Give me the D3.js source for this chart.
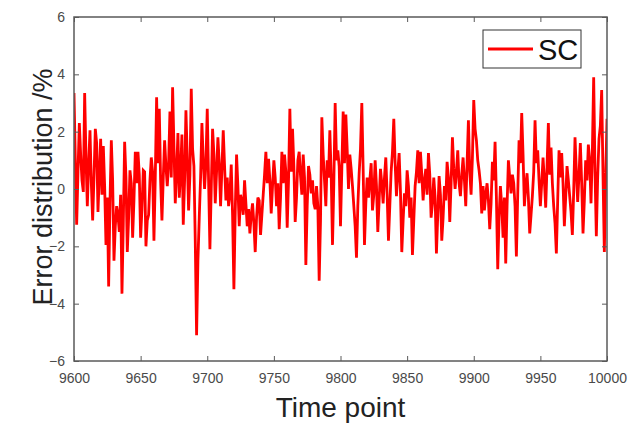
<!DOCTYPE html>
<html>
<head>
<meta charset="utf-8">
<script src="https://cdn.jsdelivr.net/npm/d3@7"></script>
<style>
  body { margin: 0; background: #fff; }
  svg text { font-family: "Liberation Sans", Arial, Helvetica, sans-serif; }
</style>
</head>
<body>
<svg id="chart" width="640" height="423"></svg>
<script>
  // one sample per time point
  var timeStart = 9600,
      timeEnd = 10000,
      timeStep = 1;

  var xTicks = [9600, 9650, 9700, 9750, 9800, 9850, 9900, 9950, 10000];
  var yTicks = [-6, -4, -2, 0, 2, 4, 6];

  var seriesName = 'SC';
  var xLabel = 'Time point';
  var yLabel = 'Error distribution /%';

  // error values for 9600 ... 10000 (20 per row)
  var scError = [
    3.35, 1.0, -1.25, 0.6, 2.3, 1.2, 0.3, -0.1, 3.35, 1.1, -0.6, 0.9, 2.05, 0.2, -1.1, 0.4, 2.1, 1.6, -0.8, 0.5,
    1.75, -0.2, 1.5, 0.1, -1.95, -0.3, -3.4, -0.5, 1.7, 0.3, -2.5, -1.3, -0.6, -0.9, -1.5, -0.2, -3.65, -1.2, 1.65, 0.4,
    -2.2, -1.0, 0.65, 0.2, -1.7, -0.4, 1.3, 0.2, 1.3, 0.5, -1.7, -0.7, 0.65, 0.6, -2.0, -1.1, -0.9, 0.3, 1.1, 0.6,
    -1.8, 0.4, 3.2, 0.9, 2.8, 0.3, -1.1, 0.4, 1.7, 0.8, 0.1, 0.9, 2.7, 0.4, 3.55, 1.5, -0.5, 0.6, 1.95, -0.3,
    0.6, 1.9, -1.25, 0.3, 2.75, 1.1, -0.75, 0.5, 3.5, 1.4, 0.8, -1.8, -5.1, -2.5, -1.0, 0.4, 2.3, 1.0, 0.0, 0.9,
    2.8, 0.3, -2.1, 0.0, 2.1, 1.2, -0.5, 0.6, 1.8, 0.9, -0.6, 0.7, 2.05, 0.8, -0.4, 0.4, -0.6, -0.2, 0.85, -0.9,
    -3.5, -0.8, 1.2, 0.1, -1.3, -0.2, -0.45, -0.9, 0.3, -0.5, -1.3, -0.7, -1.55, -0.9, -0.5, -1.2, -2.2, -1.0, -0.3, -0.4,
    -1.6, -0.9, -0.2, 0.5, 1.3, 0.2, 1.05, 0.3, -0.85, 0.1, 1.0, 0.4, -0.6, 0.2, -1.4, -0.3, 1.3, 0.2, 1.2, 0.6,
    -1.35, 0.3, 2.8, 0.6, 2.1, 0.8, -1.15, -0.3, 1.0, 1.3, 0.45, -0.2, 1.2, 0.4, -2.65, -0.6, 0.8, 0.5, -0.15, 0.3,
    -0.5, -0.7, 0.1, -0.6, -3.2, -1.1, 2.5, 1.2, 0.3, -0.6, 1.0, 0.4, 2.05, 0.5, -1.95, 0.2, 3.0, 1.0, 1.35, 0.8,
    -1.3, 0.7, 2.7, 0.9, 2.6, 1.4, 0.0, 1.2, 0.7, 0.1, -0.6, -1.3, -2.4, -0.6, 0.55, 1.4, 3.0, 0.7, -1.95, -0.5,
    0.4, -0.3, 0.3, 0.9, -0.75, -0.2, 1.0, 0.1, -1.5, -0.4, 0.7, 0.2, -0.5, 0.4, 1.1, -0.2, -1.8, -0.6, 0.6, 1.3,
    2.45, 0.9, -0.25, 0.6, 1.25, -0.1, -2.2, -1.1, -0.15, -0.6, 0.65, 0.1, -1.0, -0.3, -2.3, -1.1, 0.1, 0.6, 1.35, 0.2,
    1.3, 0.5, -0.4, 0.3, 0.7, -0.2, 1.25, 0.5, -1.0, -0.5, 0.4, -0.3, -2.25, -0.9, 0.45, -0.2, -1.8, -1.0, 0.1, -0.4,
    0.95, 0.4, -1.15, 0.2, 1.8, 0.7, 0.0, 0.6, 1.35, 0.2, -0.25, 0.5, 1.1, 0.3, -0.6, 0.9, 2.4, 0.6, -0.2, 1.1,
    3.1, 2.1, 1.7, 1.0, 0.65, 0.2, -0.85, 0.1, -0.75, -0.2, 0.2, -0.4, -1.4, -0.5, 0.95, 0.3, 1.65, -0.3, -2.8, -1.0,
    0.1, -0.6, -1.7, -0.3, -2.6, -0.6, 1.0, 0.4, -0.15, 0.5, 0.2, -0.6, -2.35, -0.2, 1.7, 0.9, 2.65, 1.2, -0.6, 0.1,
    0.55, -0.3, -1.55, -0.9, -0.25, 0.6, 2.4, 0.9, 1.35, 0.3, -0.6, 0.2, 1.1, 0.3, -0.65, 0.8, 2.3, 0.5, 1.45, 0.2,
    -0.6, -1.2, -2.25, -0.4, 1.35, 0.4, 1.25, 0.2, -1.3, -0.3, 0.8, 0.3, -0.25, -0.8, -1.6, -0.1, 1.8, 0.6, -0.45, 0.5,
    1.6, 0.2, -1.55, -0.4, 1.0, 0.3, 1.55, 1.0, -0.5, 1.3, 3.9, 0.6, -1.65, 0.4, 1.75, 2.2, 3.45, 0.5, -2.2, 0.4,
    2.45
  ];

  var timePoints = d3.range(timeStart, timeEnd + 1, timeStep);
  var data = scError.map(function(v, i) { return { t: timePoints[i], v: v }; });

  var margin = { top: 17, right: 33, bottom: 62, left: 74 },
      width = 640 - margin.left - margin.right,
      height = 423 - margin.top - margin.bottom;

  var axisColor = '#5a5a5a';

  var svg = d3.select('#chart');
  var g = svg.append('g')
    .attr('transform', 'translate(' + margin.left + ',' + margin.top + ')');

  var x = d3.scaleLinear().domain([timeStart, timeEnd]).range([0, width]);
  var y = d3.scaleLinear().domain([-6, 6]).range([height, 0]);

  // clip the line to the axes box
  g.append('clipPath').attr('id', 'plot-clip')
    .append('rect').attr('width', width).attr('height', height);

  var line = d3.line()
    .x(function(d) { return x(d.t); })
    .y(function(d) { return y(d.v); });

  g.append('path')
    .datum(data)
    .attr('clip-path', 'url(#plot-clip)')
    .attr('fill', 'none')
    .attr('stroke', '#ff0000')
    .attr('stroke-width', 2.8)
    .attr('stroke-linejoin', 'miter')
    .attr('stroke-miterlimit', 3)
    .attr('d', line);

  // axes, ticks pointing inward on all four sides
  function styleAxis(sel) {
    sel.select('.domain').remove();
    sel.selectAll('.tick line').attr('stroke', axisColor).attr('stroke-width', 1);
    sel.selectAll('.tick text')
      .attr('fill', '#4a4a4a')
      .style('font-size', '14px');
  }

  g.append('g')
    .attr('transform', 'translate(0,' + height + ')')
    .call(d3.axisBottom(x).tickValues(xTicks).tickSize(-5).tickPadding(12).tickFormat(d3.format('d')))
    .call(styleAxis);

  g.append('g')
    .call(d3.axisTop(x).tickValues(xTicks).tickSize(-5).tickFormat(''))
    .call(styleAxis);

  g.append('g')
    .call(d3.axisLeft(y).tickValues(yTicks).tickSize(-5).tickPadding(9).tickFormat(d3.format('d')))
    .call(styleAxis);

  g.append('g')
    .attr('transform', 'translate(' + width + ',0)')
    .call(d3.axisRight(y).tickValues(yTicks).tickSize(-5).tickFormat(''))
    .call(styleAxis);

  g.append('rect')
    .attr('width', width)
    .attr('height', height)
    .attr('fill', 'none')
    .attr('stroke', axisColor)
    .attr('stroke-width', 1.5);

  // axis titles
  svg.append('text')
    .attr('x', margin.left + width / 2)
    .attr('y', 417)
    .attr('text-anchor', 'middle')
    .attr('fill', '#222')
    .style('font-size', '28px')
    .text(xLabel);

  svg.append('text')
    .attr('transform', 'translate(52,' + (margin.top + height / 2 - 2) + ') rotate(-90)')
    .attr('text-anchor', 'middle')
    .attr('fill', '#222')
    .style('font-size', '27px')
    .text(yLabel);

  // legend
  var legend = svg.append('g').attr('transform', 'translate(483,30)');
  legend.append('rect')
    .attr('width', 98)
    .attr('height', 38)
    .attr('fill', '#fff')
    .attr('stroke', '#333')
    .attr('stroke-width', 1);
  legend.append('line')
    .attr('x1', 5).attr('x2', 50)
    .attr('y1', 19).attr('y2', 19)
    .attr('stroke', '#ff0000')
    .attr('stroke-width', 2.8);
  legend.append('text')
    .attr('x', 55)
    .attr('y', 30)
    .attr('fill', '#111')
    .style('font-size', '29px')
    .text(seriesName);
</script>
</body>
</html>
